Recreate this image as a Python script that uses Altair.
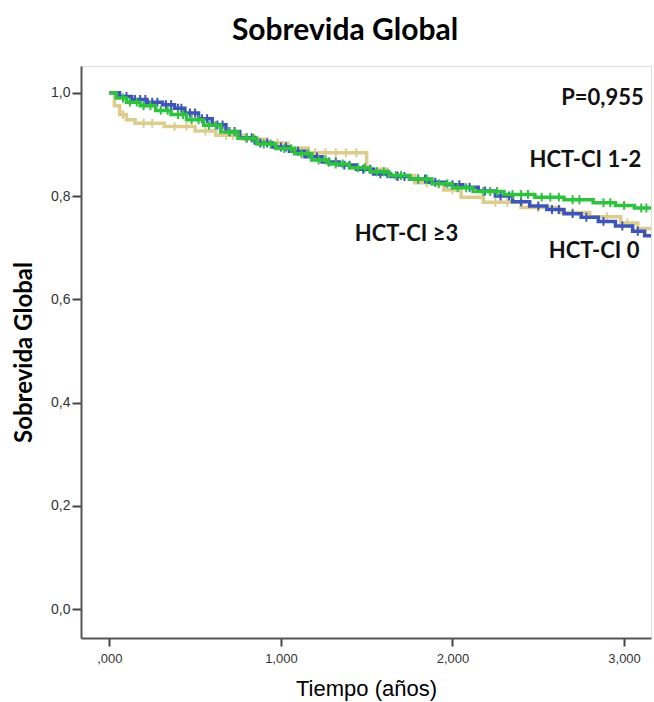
import altair as alt
import pandas as pd

# Kaplan-Meier step points (time in years, survival)
blue_t = [0.00, 0.06, 0.13, 0.22, 0.31, 0.38, 0.44, 0.52, 0.60, 0.68, 0.76, 0.85, 0.95, 1.05, 1.14, 1.24, 1.34, 1.44,
          1.54, 1.64, 1.75, 1.86, 1.96, 2.06, 2.15, 2.25, 2.35, 2.45, 2.55, 2.65, 2.75, 2.85, 2.95, 3.05, 3.12, 3.16]
blue_s = [1.000, 0.993, 0.987, 0.982, 0.977, 0.970, 0.961, 0.950, 0.938, 0.925, 0.913, 0.903, 0.895, 0.887, 0.876,
          0.866, 0.860, 0.852, 0.843, 0.838, 0.833, 0.827, 0.822, 0.817, 0.810, 0.800, 0.789, 0.781, 0.774, 0.766,
          0.759, 0.751, 0.742, 0.732, 0.723, 0.723]

green_t = [0.00, 0.04, 0.10, 0.18, 0.27, 0.36, 0.45, 0.55, 0.65, 0.75, 0.86, 0.97, 1.08, 1.18, 1.28, 1.40, 1.52,
           1.63, 1.75, 1.88, 2.00, 2.12, 2.30, 2.48, 2.65, 2.82, 2.95, 3.06, 3.16]
green_s = [1.000, 0.990, 0.982, 0.975, 0.966, 0.958, 0.948, 0.937, 0.924, 0.912, 0.901, 0.892, 0.882, 0.870, 0.862,
           0.855, 0.847, 0.840, 0.833, 0.824, 0.816, 0.809, 0.803, 0.798, 0.793, 0.787, 0.782, 0.777, 0.777]

tan_t = [0.00, 0.03, 0.06, 0.10, 0.15, 0.32, 0.50, 0.62, 0.78, 0.92, 1.04, 1.16, 1.50, 1.62, 1.78, 1.95, 2.05,
         2.18, 2.40, 2.62, 2.80, 2.98, 3.08, 3.16]
tan_s = [1.000, 0.975, 0.958, 0.948, 0.941, 0.935, 0.926, 0.918, 0.910, 0.903, 0.893, 0.884, 0.852, 0.840, 0.826,
         0.812, 0.798, 0.788, 0.778, 0.768, 0.760, 0.748, 0.737, 0.737]

# Censor times
blue_c = [0.10, 0.15, 0.18, 0.21, 0.25, 0.28, 0.33, 0.36, 0.40, 0.42, 0.47, 0.50, 0.54, 0.57, 0.63, 0.66, 0.70,
          0.73, 0.80, 0.83, 0.88, 0.92, 1.00, 1.03, 1.10, 1.18, 1.21, 1.28, 1.32, 1.37, 1.40, 1.48, 1.52, 1.58,
          1.62, 1.68, 1.72, 1.80, 1.84, 1.90, 2.00, 2.04, 2.10, 2.19, 2.28, 2.33, 2.40, 2.50, 2.58, 2.62, 2.70,
          2.78, 2.88, 2.99, 3.08]
green_c = [0.08, 0.12, 0.16, 0.20, 0.24, 0.30, 0.34, 0.40, 0.43, 0.48, 0.52, 0.58, 0.62, 0.70, 0.73, 0.80, 0.84,
           0.90, 0.94, 1.02, 1.06, 1.12, 1.16, 1.22, 1.26, 1.32, 1.36, 1.45, 1.49, 1.56, 1.60, 1.67, 1.70, 1.80,
           1.85, 1.92, 1.97, 2.03, 2.08, 2.18, 2.22, 2.26, 2.35, 2.40, 2.44, 2.52, 2.57, 2.62, 2.70, 2.74, 2.88,
           2.92, 3.00, 3.10, 3.13]
tan_c = [0.08, 0.20, 0.25, 0.38, 0.45, 0.56, 0.68, 0.72, 0.85, 0.98, 1.20, 1.26, 1.32, 1.38, 1.44, 1.68, 1.85,
         2.00, 2.25, 2.32, 2.50, 2.70, 2.90, 3.02]

groups = ["HCT-CI ≥3", "HCT-CI 0", "HCT-CI 1-2"]
colors = ["#dccd8e", "#3d55b8", "#2fc23f"]

# Annotations (data coordinates)
ann_text = ["P=0,955", "HCT-CI 1-2", "HCT-CI ≥3", "HCT-CI 0"]
ann_x = [3.115, 3.10, 1.43, 3.09]
ann_y = [0.990, 0.870, 0.727, 0.694]
ann_align = ["right", "right", "left", "right"]


def step_value(ts, ss, c):
    v = ss[0]
    for t, s in zip(ts, ss):
        if t <= c:
            v = s
    return v


series = [(tan_t, tan_s, tan_c), (blue_t, blue_s, blue_c), (green_t, green_s, green_c)]

xscale = alt.Scale(domain=[-0.165, 3.157], nice=False, zero=False)
yscale = alt.Scale(domain=[-0.056, 1.052], nice=False, zero=False)

x_axis = alt.Axis(values=[0, 1, 2, 3], title="Tiempo (años)",
                  labelExpr="datum.value == 0 ? ',000' : replace(format(datum.value, '.3f'), '.', ',')",
                  grid=False, tickSize=8, tickColor="#444", tickWidth=2, labelPadding=6,
                  labelFont="Liberation Sans", labelFontSize=13, labelColor="#333",
                  titleFont="Liberation Sans", titleFontSize=22, titleFontWeight="normal",
                  titleColor="#000", titlePadding=13, domainColor="#555", domainWidth=2)
y_axis = alt.Axis(values=[0, 0.2, 0.4, 0.6, 0.8, 1.0], title="Sobrevida Global",
                  labelExpr="replace(format(datum.value, '.1f'), '.', ',')",
                  grid=False, tickSize=9, tickColor="#444", tickWidth=2, labelPadding=2,
                  labelFont="Liberation Sans", labelFontSize=14, labelColor="#333",
                  titleFont="Lato", titleFontSize=24, titleFontWeight="bold",
                  titleColor="#000", titlePadding=14, domainColor="#555", domainWidth=2)

X = lambda: alt.X("t:Q", scale=xscale, axis=x_axis)
Y = lambda: alt.Y("s:Q", scale=yscale, axis=y_axis)

layers = []
for i, (ts, ss, cs) in enumerate(series):
    df = pd.DataFrame({"t": ts, "s": ss})
    line = alt.Chart(df).mark_line(interpolate="step-after", color=colors[i], strokeWidth=3.5,
                                   clip=True).encode(x=X(), y=Y())
    cdf = pd.DataFrame({"t": cs, "s": [step_value(ts, ss, c) for c in cs]})
    cens = alt.Chart(cdf).mark_point(shape="M0,-1L0,1M-0.6,0L0.6,0", filled=False, color=colors[i],
                                     strokeWidth=2, size=80, opacity=1, clip=True).encode(x=X(), y=Y())
    layers += [line, cens]

adf = pd.DataFrame({"t": ann_x, "s": ann_y, "label": ann_text, "align": ann_align})
for al in ["left", "right"]:
    sub = adf[adf["align"] == al]
    layers.append(alt.Chart(sub).mark_text(align=al, baseline="middle", font="Lato", fontSize=22,
                                           fontWeight="bold", color="#111").encode(
        x=X(), y=Y(), text="label:N"))

chart = alt.layer(*layers).properties(
    width=570, height=572,
    title=alt.TitleParams("Sobrevida Global", font="Lato", fontSize=30, fontWeight="bold",
                          color="#000", anchor="middle", dx=-21, offset=20),
    padding={"left": 81, "top": 66, "right": 3, "bottom": 64},
    autosize=alt.AutoSizeParams(type="none"),
).configure_view(stroke="#777", strokeWidth=1.5).configure(background="white")

chart.save("out.html", embed_options={"renderer": "svg", "actions": False})
